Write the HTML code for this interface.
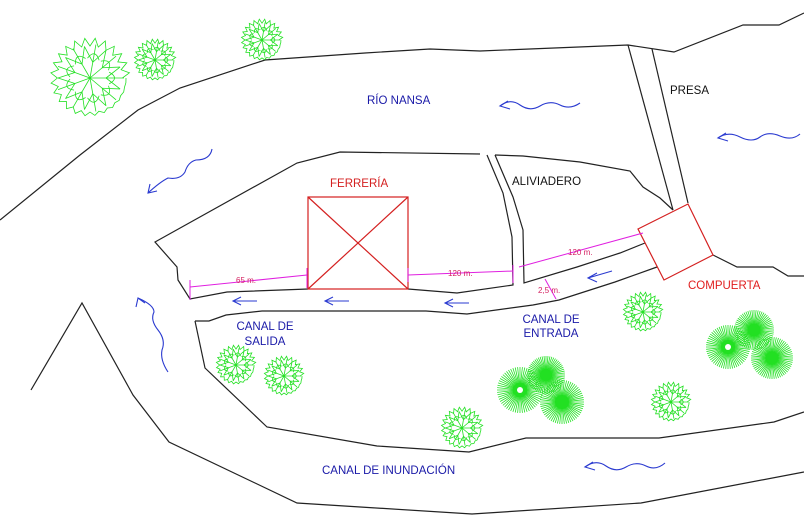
<!DOCTYPE html>
<html><head><meta charset="utf-8"><style>
html,body{margin:0;padding:0;background:#fff;width:804px;height:525px;overflow:hidden}
svg{display:block}
text{font-family:"Liberation Sans",Arial,sans-serif}
</style></head><body>
<svg id="s" width="804" height="525" viewBox="0 0 804 525" xmlns="http://www.w3.org/2000/svg">
<g fill="none" stroke="#222" stroke-width="1.2">
<polyline points="0,220 80,155 138,110 180,88 265,60 365,53 430,49 480,51 628,45 674,52 743,25 779,25 804,13"/>
<line x1="628" y1="45" x2="673" y2="210"/>
<line x1="652" y1="49" x2="688" y2="203"/>
<polyline points="713,255 737,267 773,267 788,276 804,276"/>
<polyline points="495,155 523,156 580,162 630,171 643,187 660,198 673,210"/>
<polyline points="495,155 513,197 523,230 524,283 577,267 620,253 645,243"/>
<polyline points="480,154 340,152 297,163 155,242 177,267 178,280 190,299 227,292 308,289"/>
<polyline points="408,289 457,293 513,285 512,237 503,193 487,155"/>
<polyline points="195,321 209,321 226,315 262,311 426,311 467,314 533,305 559,300 615,282 657,267"/>
<polyline points="195,321 205,368 267,427 377,446 469,452 526,438 659,438 774,422 804,412"/>
<polyline points="31,390 82,303 133,395 169,442 297,503 472,514 641,503 804,472"/>
</g>
<g fill="none" stroke="#d42020" stroke-width="1.2">
<rect x="308" y="197" width="100" height="92"/>
<line x1="308" y1="197" x2="408" y2="289"/><line x1="408" y1="197" x2="308" y2="289"/>
<polygon points="638,229 688,204 713,255 664,280"/>
</g>
<g fill="none" stroke="#e020e0" stroke-width="1">
<line x1="190" y1="287" x2="307" y2="275"/><line x1="190" y1="280" x2="190" y2="300"/><line x1="307" y1="268" x2="307" y2="288"/>
<line x1="408" y1="275" x2="513" y2="271"/><line x1="408" y1="268" x2="408" y2="282"/><line x1="513" y1="265" x2="513" y2="283"/>
<line x1="519" y1="267" x2="643" y2="233"/>
<line x1="545" y1="279" x2="556" y2="299"/>
</g>
<g fill="#d42060" font-size="8">
<text x="236" y="283" fill="#d42060">65 m.</text>
<text x="448" y="276">120 m.</text>
<text x="568" y="255">120 m.</text>
<text x="538" y="293">2,5 m.</text>
</g>
<g font-size="11.5">
<text x="367" y="104" fill="#1a1aa8">RÍO NANSA</text>
<text x="330" y="187" fill="#d42020">FERRERÍA</text>
<text x="512" y="185" fill="#111">ALIVIADERO</text>
<text x="670" y="94" fill="#111">PRESA</text>
<text x="688" y="289" fill="#e02020">COMPUERTA</text>
<text x="265" y="330" fill="#1a1aa8" text-anchor="middle">CANAL DE</text>
<text x="265" y="345" fill="#1a1aa8" text-anchor="middle">SALIDA</text>
<text x="551" y="323" fill="#1a1aa8" text-anchor="middle">CANAL DE</text>
<text x="551" y="337" fill="#1a1aa8" text-anchor="middle">ENTRADA</text>
<text x="322" y="474" fill="#1a1aa8">CANAL DE INUNDACIÓN</text>
</g>
<g fill="none" stroke="#2a3ad0" stroke-width="1.1">
<path d="M500,106 Q510,98 520,105 T540,106 T560,105 T580,103"/><path d="M508,101 L500,106 L510,109"/>
<path d="M718,138 Q728,131 740,137 T760,137 T780,136 T800,134"/><path d="M726,133 L718,138 L728,141"/>
<path d="M585,467 Q596,459 606,466 T626,467 T646,466 T665,463"/><path d="M593,462 L585,467 L595,470"/>
<path d="M212,149 Q210,160 196,160 Q188,162 185,172 Q180,180 168,178 Q160,182 148,193"/><path d="M150,184 L148,193 L157,191"/>
<path d="M168,372 Q160,360 162,350 Q166,340 158,330 Q150,320 154,312 Q154,305 138,298"/><path d="M136,307 L138,298 L145,303"/>
<path d="M233,301 H257 M241,297 L233,301 L241,305"/>
<path d="M325,301 H349 M333,297 L325,301 L333,305"/>
<path d="M445,303 H469 M453,299 L445,303 L453,307"/>
<path d="M588,278 L612,271 M597,273 L588,278 L597,282"/>
</g>
<g id="trees" stroke="#22e022" fill="none" stroke-width="0.8"></g>
</svg>
<script>
var g=document.getElementById('trees'),ns='http://www.w3.org/2000/svg';
function el(n,a){var e=document.createElementNS(ns,n);for(var k in a)e.setAttribute(k,a[k]);g.appendChild(e);}
function tree(cx,cy,r){
 var p='';for(var i=0;i<=48;i++){var a=i/48*Math.PI*2,rr=r*(0.9+0.1*Math.sin(i*3.1));p+=(i?'L':'M')+(cx+rr*Math.cos(a)).toFixed(1)+','+(cy+rr*Math.sin(a)).toFixed(1);}
 el('path',{d:p});
 for(var j=0;j<9;j++){var a=j/9*Math.PI*2;el('line',{x1:cx,y1:cy,x2:cx+r*0.85*Math.cos(a),y2:cy+r*0.85*Math.sin(a)});
  for(var k=0;k<2;k++){var b=a+(k?0.35:-0.35);el('line',{x1:cx+r*0.4*Math.cos(a),y1:cy+r*0.4*Math.sin(a),x2:cx+r*0.8*Math.cos(b),y2:cy+r*0.8*Math.sin(b)});}
  el('path',{d:'M'+(cx+r*0.5*Math.cos(a-0.3))+','+(cy+r*0.5*Math.sin(a-0.3))+'Q'+(cx+r*0.75*Math.cos(a))+','+(cy+r*0.75*Math.sin(a))+' '+(cx+r*0.5*Math.cos(a+0.3))+','+(cy+r*0.5*Math.sin(a+0.3))});}
}
function star(cx,cy,r,hole){
 for(var i=0;i<60;i++){var a=i/60*Math.PI*2;el('line',{x1:cx,y1:cy,x2:cx+r*Math.cos(a),y2:cy+r*Math.sin(a)});}
 el('circle',{cx:cx,cy:cy,r:r*0.3,fill:'#22e022'});
 if(hole)el('circle',{cx:cx,cy:cy,r:3,fill:'#fff',stroke:'none'});
}
tree(90,78,40);tree(155,60,21);tree(262,40,21);tree(643,312,20);tree(236,365,20);tree(284,376,20);tree(462,428,21);tree(671,402,20);
star(520,390,23,1);star(546,375,19,0);star(562,402,22,0);
star(728,347,22,1);star(754,330,20,0);star(772,358,21,0);
</script>
</body></html>
